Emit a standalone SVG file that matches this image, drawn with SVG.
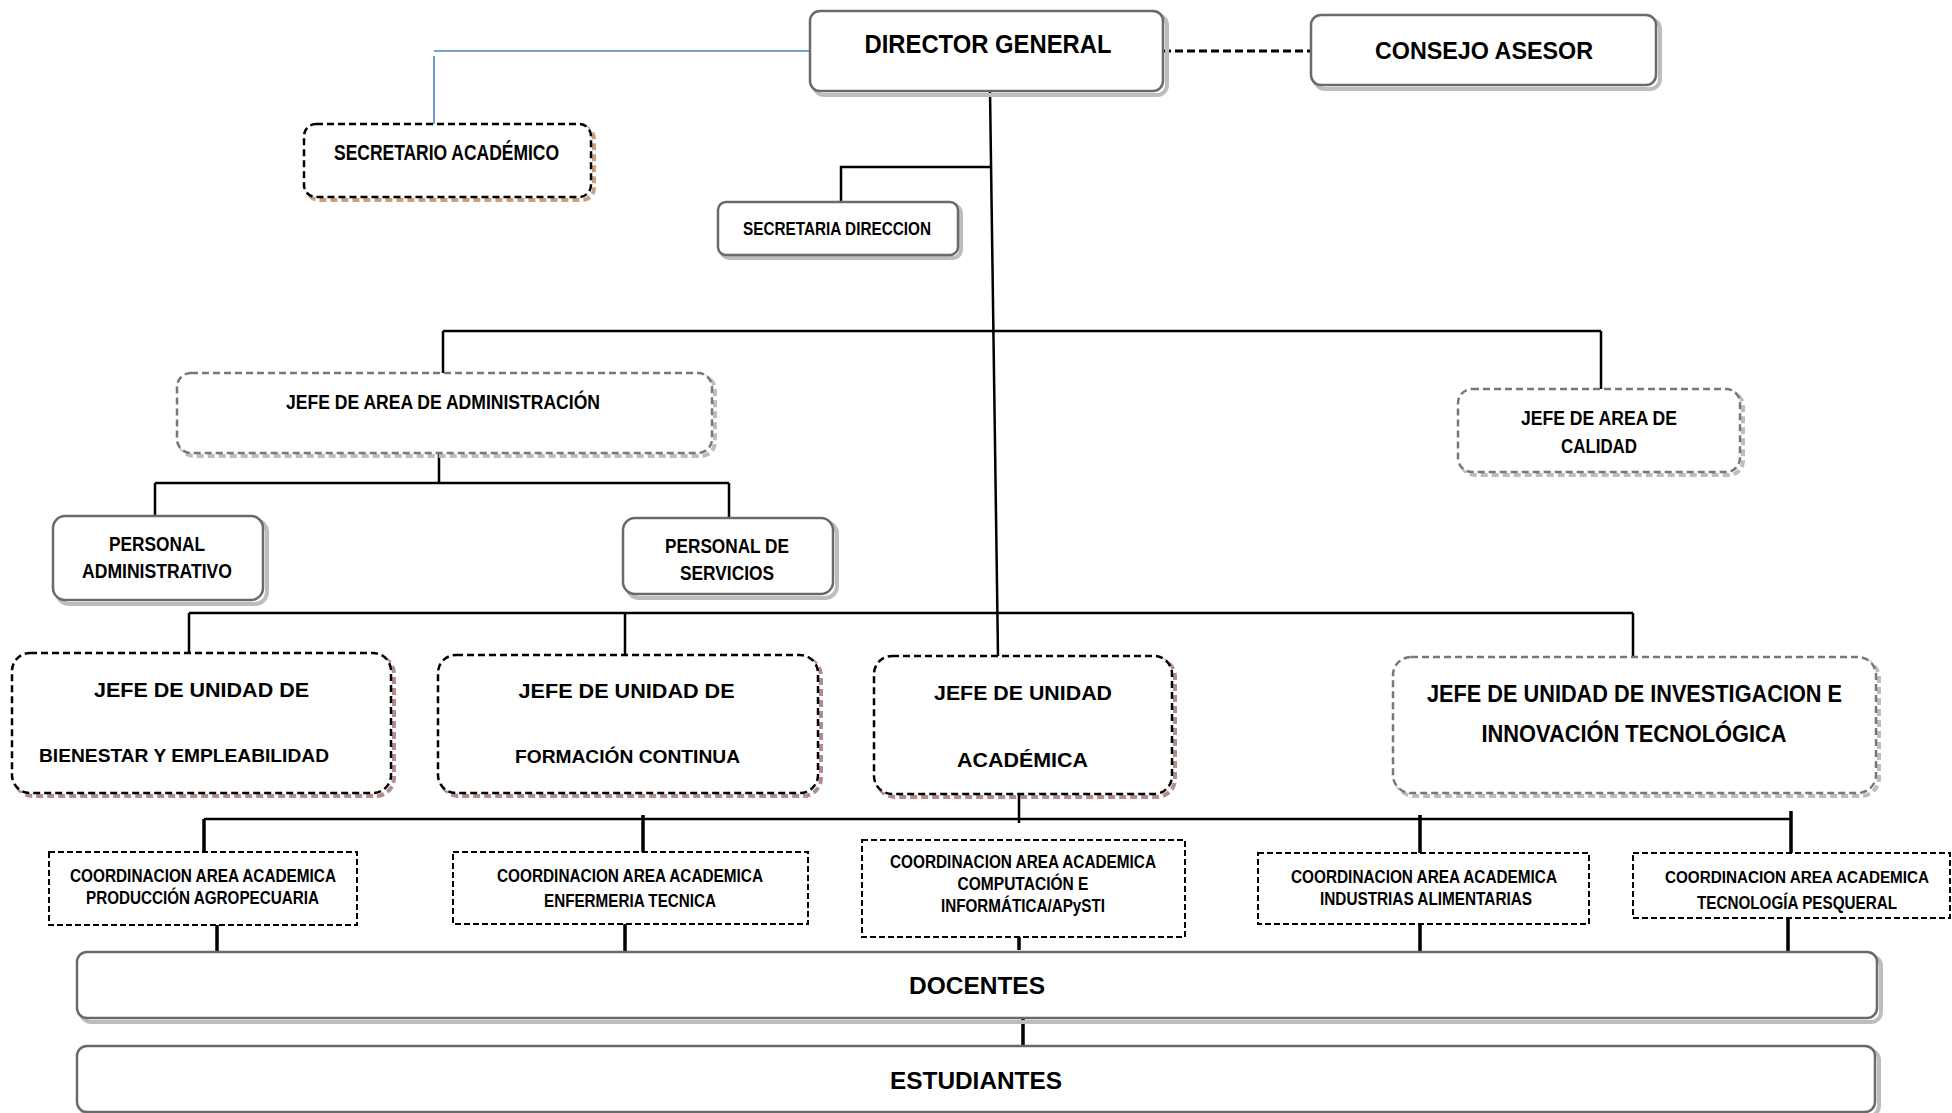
<svg xmlns="http://www.w3.org/2000/svg" width="1952" height="1113" viewBox="0 0 1952 1113">
<style>
text{font-family:"Liberation Sans",Arial,sans-serif;font-weight:bold;fill:#000;text-anchor:middle}
.box{fill:#fff;stroke:#6a6a6a;stroke-width:2.5}
.sh{fill:none;stroke:#bdbdbd;stroke-width:4}
.dk{fill:#fff;stroke:#000;stroke-width:2.5;stroke-dasharray:7 4}
.dg{fill:#fff;stroke:#777;stroke-width:2.5;stroke-dasharray:7 4}
.shd{fill:none;stroke-width:4;stroke-dasharray:7 4}
.co{fill:#fff;stroke:#000;stroke-width:2;stroke-dasharray:6 3}
.ln{fill:none;stroke:#000;stroke-width:2.5}
.lt{fill:none;stroke:#000;stroke-width:3.5}
</style>
<rect width="1952" height="1113" fill="#fff"/>
<g id="connectors">
<path d="M810,51 H434 M434,56 V124" fill="none" stroke="#4f81bd" stroke-width="1.6"/>
<path d="M1163,51 H1311" fill="none" stroke="#000" stroke-width="3" stroke-dasharray="8 4"/>
<path class="ln" d="M990,91 L998,656"/>
<path class="ln" d="M990,167 H841 V202"/>
<path class="ln" d="M443,331 H1601 M443,331 V386 M1601,331 V389"/>
<path class="ln" d="M439,444 V483 M155,483 H729 M155,483 V527 M729,483 V518"/>
<path class="ln" d="M189,613 H1633 M189,613 V660 M625,613 V655 M1633,613 V657"/>
<path class="ln" d="M1019,793 V823 M204,819 H1791"/>
<path class="lt" d="M204,819 V859 M643,815 V857 M1420,815 V853 M1791,811 V853"/>
<path class="lt" d="M217,915 V957 M625,917 V958 M1019,915 V950 M1420,913 V955 M1788,913 V955 M1023,1018 V1047"/>
</g>
<g id="director-general">
<rect class="sh" x="814" y="15" width="353" height="80" rx="10"/>
<rect class="box" x="810" y="11" width="353" height="80" rx="10"/>
<text x="988" y="53" font-size="25" textLength="247" lengthAdjust="spacingAndGlyphs">DIRECTOR GENERAL</text>
</g>
<g id="consejo-asesor">
<rect class="sh" x="1315" y="19" width="345" height="70" rx="10"/>
<rect class="box" x="1311" y="15" width="345" height="70" rx="10"/>
<text x="1484" y="59" font-size="23" textLength="218" lengthAdjust="spacingAndGlyphs">CONSEJO ASESOR</text>
</g>
<g id="secretario-academico">
<rect class="shd" stroke="#c9a080" x="307" y="127" width="287" height="73" rx="12"/>
<rect class="dk" x="304" y="124" width="287" height="73" rx="12"/>
<text x="446.5" y="160" font-size="22" textLength="225" lengthAdjust="spacingAndGlyphs">SECRETARIO ACADÉMICO</text>
</g>
<g id="secretaria-direccion">
<rect class="sh" x="721" y="205" width="240" height="53" rx="8"/>
<rect class="box" x="718" y="202" width="240" height="53" rx="8"/>
<text x="837" y="235" font-size="18" textLength="188" lengthAdjust="spacingAndGlyphs">SECRETARIA DIRECCION</text>
</g>
<g id="jefe-administracion">
<rect class="shd" stroke="#bdbdbd" x="180" y="376" width="535" height="80" rx="14"/>
<rect class="dg" x="177" y="373" width="535" height="80" rx="14"/>
<text x="443" y="409" font-size="20" textLength="314" lengthAdjust="spacingAndGlyphs">JEFE DE AREA DE ADMINISTRACIÓN</text>
</g>
<g id="jefe-calidad">
<rect class="shd" stroke="#bdbdbd" x="1461" y="392" width="282" height="83" rx="14"/>
<rect class="dg" x="1458" y="389" width="282" height="83" rx="14"/>
<text x="1599" y="425" font-size="20" textLength="156" lengthAdjust="spacingAndGlyphs">JEFE DE AREA DE</text>
<text x="1599" y="453" font-size="20" textLength="76" lengthAdjust="spacingAndGlyphs">CALIDAD</text>
</g>
<g id="personal-administrativo">
<rect class="sh" x="57" y="520" width="210" height="84" rx="12"/>
<rect class="box" x="53" y="516" width="210" height="84" rx="12"/>
<text x="157" y="551" font-size="20" textLength="96" lengthAdjust="spacingAndGlyphs">PERSONAL</text>
<text x="157" y="578" font-size="20" textLength="150" lengthAdjust="spacingAndGlyphs">ADMINISTRATIVO</text>
</g>
<g id="personal-servicios">
<rect class="sh" x="627" y="522" width="210" height="76" rx="12"/>
<rect class="box" x="623" y="518" width="210" height="76" rx="12"/>
<text x="727" y="553" font-size="20" textLength="124" lengthAdjust="spacingAndGlyphs">PERSONAL DE</text>
<text x="727" y="580" font-size="20" textLength="94" lengthAdjust="spacingAndGlyphs">SERVICIOS</text>
</g>
<g id="jefe-bienestar">
<rect class="shd" stroke="#b38d8d" x="15" y="656" width="379" height="140" rx="18"/>
<rect class="dk" x="12" y="653" width="379" height="140" rx="18"/>
<text x="201.5" y="697" font-size="21" textLength="215" lengthAdjust="spacingAndGlyphs">JEFE DE UNIDAD DE</text>
<text x="184" y="762" font-size="19" textLength="290" lengthAdjust="spacingAndGlyphs">BIENESTAR Y EMPLEABILIDAD</text>
</g>
<g id="jefe-formacion">
<rect class="shd" stroke="#b38d8d" x="441" y="658" width="380" height="138" rx="18"/>
<rect class="dk" x="438" y="655" width="380" height="138" rx="18"/>
<text x="626.6" y="698" font-size="21" textLength="216" lengthAdjust="spacingAndGlyphs">JEFE DE UNIDAD DE</text>
<text x="627.5" y="763" font-size="19" textLength="225" lengthAdjust="spacingAndGlyphs">FORMACIÓN CONTINUA</text>
</g>
<g id="jefe-academica">
<rect class="shd" stroke="#b38d8d" x="877" y="659" width="298" height="138" rx="18"/>
<rect class="dk" x="874" y="656" width="298" height="138" rx="18"/>
<text x="1023" y="700" font-size="21" textLength="178" lengthAdjust="spacingAndGlyphs">JEFE DE UNIDAD</text>
<text x="1022.5" y="767" font-size="21" textLength="131" lengthAdjust="spacingAndGlyphs">ACADÉMICA</text>
</g>
<g id="jefe-investigacion">
<rect class="shd" stroke="#bdbdbd" x="1396" y="660" width="483" height="136" rx="18"/>
<rect class="dg" x="1393" y="657" width="483" height="136" rx="18"/>
<text x="1634.5" y="702" font-size="23" textLength="415" lengthAdjust="spacingAndGlyphs">JEFE DE UNIDAD DE INVESTIGACION E</text>
<text x="1634" y="742" font-size="23" textLength="305" lengthAdjust="spacingAndGlyphs">INNOVACIÓN TECNOLÓGICA</text>
</g>
<g id="coord-agropecuaria">
<rect class="co" x="49" y="852" width="308" height="73"/>
<text x="203" y="882" font-size="18" textLength="266" lengthAdjust="spacingAndGlyphs">COORDINACION AREA ACADEMICA</text>
<text x="202.5" y="904" font-size="18" textLength="233" lengthAdjust="spacingAndGlyphs">PRODUCCIÓN AGROPECUARIA</text>
</g>
<g id="coord-enfermeria">
<rect class="co" x="453" y="852" width="355" height="72"/>
<text x="630" y="882" font-size="18" textLength="266" lengthAdjust="spacingAndGlyphs">COORDINACION AREA ACADEMICA</text>
<text x="630" y="907" font-size="18" textLength="172" lengthAdjust="spacingAndGlyphs">ENFERMERIA TECNICA</text>
</g>
<g id="coord-computacion">
<rect class="co" x="862" y="840" width="323" height="97"/>
<text x="1023" y="868" font-size="18" textLength="266" lengthAdjust="spacingAndGlyphs">COORDINACION AREA ACADEMICA</text>
<text x="1023" y="890" font-size="18" textLength="131" lengthAdjust="spacingAndGlyphs">COMPUTACIÓN E</text>
<text x="1023" y="911.5" font-size="18" textLength="164" lengthAdjust="spacingAndGlyphs">INFORMÁTICA/APySTI</text>
</g>
<g id="coord-alimentarias">
<rect class="co" x="1258" y="853" width="331" height="71"/>
<text x="1424" y="883" font-size="18" textLength="266" lengthAdjust="spacingAndGlyphs">COORDINACION AREA ACADEMICA</text>
<text x="1426" y="905" font-size="18" textLength="212" lengthAdjust="spacingAndGlyphs">INDUSTRIAS ALIMENTARIAS</text>
</g>
<g id="coord-pesqueral">
<rect class="co" x="1633" y="853" width="317" height="65"/>
<text x="1797" y="883" font-size="16" textLength="264" lengthAdjust="spacingAndGlyphs">COORDINACION AREA ACADEMICA</text>
<text x="1797" y="909" font-size="18" textLength="200" lengthAdjust="spacingAndGlyphs">TECNOLOGÍA PESQUERAL</text>
</g>
<g id="docentes">
<rect class="sh" x="81" y="956" width="1800" height="66" rx="10"/>
<rect class="box" x="77" y="952" width="1800" height="66" rx="10"/>
<text x="977" y="993.5" font-size="23" textLength="136" lengthAdjust="spacingAndGlyphs">DOCENTES</text>
</g>
<g id="estudiantes">
<rect class="sh" x="81" y="1050" width="1798" height="66" rx="10"/>
<rect class="box" x="77" y="1046" width="1798" height="66" rx="10"/>
<text x="976" y="1088.5" font-size="24" textLength="172" lengthAdjust="spacingAndGlyphs">ESTUDIANTES</text>
</g>
</svg>
